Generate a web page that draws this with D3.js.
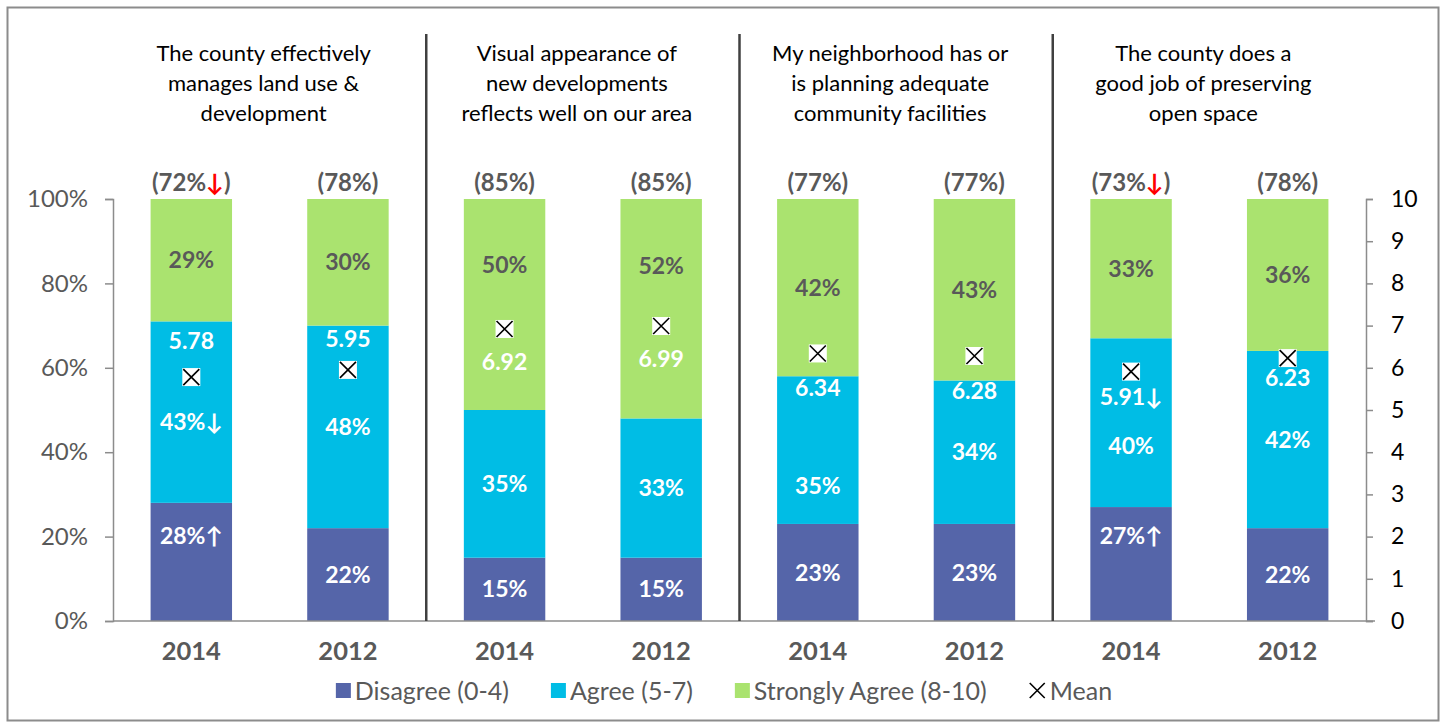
<!DOCTYPE html>
<html>
<head>
<meta charset="utf-8">
<script src="https://cdn.jsdelivr.net/npm/d3@7"></script>
<style>
  body { margin: 0; background: #fff; }
  svg text { font-family: Lato, "Open Sans", sans-serif; }
</style>
</head>
<body>
<div id="chartDiv"></div>
<script>
// data
var groupTitles = [
  ["The county effectively", "manages land use &", "development"],
  ["Visual appearance of", "new developments", "reflects well on our area"],
  ["My neighborhood has or", "is planning adequate", "community facilities"],
  ["The county does a", "good job of preserving", "open space"]
];
var years = ["2014", "2012", "2014", "2012", "2014", "2012", "2014", "2012"];
var disagree = [28, 22, 15, 15, 23, 23, 27, 22];
var agree = [43, 48, 35, 33, 35, 34, 40, 42];
var stronglyAgree = [29, 30, 50, 52, 42, 43, 33, 36];
var means = [5.78, 5.95, 6.92, 6.99, 6.34, 6.28, 5.91, 6.23];
var disagreeArrows = ["↑", "", "", "", "", "", "↑", ""];
var agreeArrows = ["↓", "", "", "", "", "", "", ""];
var meanArrows = ["", "", "", "", "", "", "↓", ""];
var totalArrows = ["↓", "", "", "", "", "", "↓", ""];
var leftTicks = [0, 0.2, 0.4, 0.6, 0.8, 1];
var rightTicks = [0, 1, 2, 3, 4, 5, 6, 7, 8, 9, 10];
var seriesNames = ["Disagree (0-4)", "Agree (5-7)", "Strongly Agree (8-10)"];
var seriesColors = ["#5565a9", "#00bde5", "#aae36f"];

// label nudges (as placed in the original)
var disagreeDy = [-26, 0, 0, 0, 0, 0, -28, 0];
var agreeDy = [10, 0, 0, 0, 36, 0, 23, 0];
var strongDy = [0, 0, -40, -43, 0, 0, 0, 0];
var meanLabelDy = [-36, -31, 33, 33, 34, 35, 25, 20];

var width = 1443, height = 728;
var plot = {left: 113, right: 1366, top: 199, bottom: 621};
var grey = "#595959";

var svg = d3.select("#chartDiv").append("svg")
  .attr("width", width)
  .attr("height", height);

svg.append("rect")
  .attr("x", 7.5).attr("y", 7.5)
  .attr("width", 1431).attr("height", 713)
  .attr("fill", "#fff")
  .attr("stroke", "#8c8c8c")
  .attr("stroke-width", 2);

var idx = d3.range(years.length);

var x = d3.scaleBand()
  .domain(idx)
  .range([plot.left, plot.right])
  .paddingInner(0.48)
  .paddingOuter(0.24);

var y = d3.scaleLinear().domain([0, 1]).range([plot.bottom, plot.top]);
var yMean = d3.scaleLinear().domain([0, 10]).range([plot.bottom, plot.top]);

// stacked rows
var rows = idx.map(function(i) {
  return {i: i, disagree: disagree[i] / 100, agree: agree[i] / 100, strong: stronglyAgree[i] / 100};
});
var stack = d3.stack().keys(["disagree", "agree", "strong"]);
var layers = stack(rows);

svg.append("g")
  .selectAll("g")
  .data(layers)
  .enter()
  .append("g")
    .attr("fill", function(d, k) { return seriesColors[k]; })
  .selectAll("rect")
  .data(function(d) { return d; })
  .enter()
  .append("rect")
    .attr("x", function(d) { return x(d.data.i); })
    .attr("y", function(d) { return y(d[1]); })
    .attr("width", x.bandwidth())
    .attr("height", function(d) { return y(d[0]) - y(d[1]); });

// axes
var leftAxis = svg.append("g")
  .attr("transform", "translate(" + plot.left + ",0)")
  .call(d3.axisLeft(y).tickValues(leftTicks).tickFormat(d3.format(".0%")).tickSize(8).tickPadding(17));
leftAxis.selectAll("text").attr("fill", grey).style("font-size", "24px");

var rightAxis = svg.append("g")
  .attr("transform", "translate(" + plot.right + ",0)")
  .call(d3.axisRight(yMean).tickValues(rightTicks).tickSize(7).tickPadding(18));
rightAxis.selectAll("text").attr("fill", "#000").style("font-size", "23px");

svg.selectAll(".domain, .tick line").attr("stroke", "#8c8c8c").attr("stroke-width", 1.5);

svg.append("line")
  .attr("x1", plot.left).attr("x2", plot.right + 9)
  .attr("y1", plot.bottom).attr("y2", plot.bottom)
  .attr("stroke", "#8c8c8c").attr("stroke-width", 1.5);

// group separators
[1, 3, 5].forEach(function(i) {
  var sx = (x(i) + x.bandwidth() + x(i + 1)) / 2;
  svg.append("line")
    .attr("x1", sx).attr("x2", sx)
    .attr("y1", 34).attr("y2", plot.bottom)
    .attr("stroke", "#404040").attr("stroke-width", 2.5);
});

// group titles
groupTitles.forEach(function(lines, g) {
  var gx = (x(g * 2) + x(g * 2 + 1) + x.bandwidth()) / 2 - 6;
  svg.append("text")
    .attr("text-anchor", "middle")
    .style("font-size", "22px")
    .attr("fill", "#000")
    .selectAll("tspan")
    .data(lines)
    .enter()
    .append("tspan")
      .attr("x", gx)
      .attr("y", function(d, k) { return 61 + k * 30; })
      .text(function(d) { return d; });
});

function cx(i) { return x(i) + x.bandwidth() / 2; }

// segment labels
function segLabels(values, lowerOf, arrows, dys, color) {
  svg.append("g")
    .selectAll("text")
    .data(idx)
    .enter()
    .append("text")
      .attr("x", cx)
      .attr("y", function(i) { return y(lowerOf(i) + values[i] / 200) + dys[i]; })
      .attr("dy", "0.35em")
      .attr("text-anchor", "middle")
      .attr("fill", color)
      .style("font-size", "23px")
      .style("font-weight", "bold")
      .text(function(i) { return values[i] + "%" + arrows[i]; });
}
segLabels(disagree, function() { return 0; }, disagreeArrows, disagreeDy, "#fff");
segLabels(agree, function(i) { return disagree[i] / 100; }, agreeArrows, agreeDy, "#fff");
segLabels(stronglyAgree, function(i) { return (disagree[i] + agree[i]) / 100; }, ["", "", "", "", "", "", "", ""], strongDy, grey);

// total agree above bars
var totals = svg.append("g")
  .selectAll("text")
  .data(idx)
  .enter()
  .append("text")
    .attr("x", cx)
    .attr("y", plot.top - 8)
    .attr("text-anchor", "middle")
    .attr("fill", grey)
    .style("font-size", "24px")
    .style("font-weight", "bold");
totals.append("tspan").text(function(i) { return "(" + (agree[i] + stronglyAgree[i]) + "%"; });
totals.append("tspan").attr("fill", "#ff0000").text(function(i) { return totalArrows[i]; });
totals.append("tspan").text(")");

// mean markers
var m = 9;
var markers = svg.append("g")
  .selectAll("g")
  .data(idx)
  .enter()
  .append("g")
    .attr("transform", function(i) { return "translate(" + cx(i) + "," + yMean(means[i]) + ")"; });
markers.append("rect")
  .attr("x", -m).attr("y", -m).attr("width", 2 * m).attr("height", 2 * m)
  .attr("fill", "#fff");
markers.append("path")
  .attr("d", "M" + (-m + 1) + "," + (-m + 1) + "L" + (m - 1) + "," + (m - 1) + "M" + (m - 1) + "," + (-m + 1) + "L" + (-m + 1) + "," + (m - 1))
  .attr("stroke", "#000").attr("stroke-width", 1.6);

svg.append("g")
  .selectAll("text")
  .data(idx)
  .enter()
  .append("text")
    .attr("x", cx)
    .attr("y", function(i) { return yMean(means[i]) + meanLabelDy[i]; })
    .attr("dy", "0.35em")
    .attr("text-anchor", "middle")
    .attr("fill", "#fff")
    .style("font-size", "23px")
    .style("font-weight", "bold")
    .text(function(i) { return means[i].toFixed(2) + meanArrows[i]; });

// year labels
svg.append("g")
  .selectAll("text")
  .data(idx)
  .enter()
  .append("text")
    .attr("x", cx)
    .attr("y", 660)
    .attr("text-anchor", "middle")
    .attr("fill", grey)
    .style("font-size", "25.5px")
    .style("font-weight", "bold")
    .text(function(i) { return years[i]; });

// legend, centred under the plot
var legend = svg.append("g");
var lx = 0;
seriesNames.forEach(function(name, k) {
  legend.append("rect")
    .attr("x", lx).attr("y", -8).attr("width", 15).attr("height", 15)
    .attr("fill", seriesColors[k]);
  var t = legend.append("text")
    .attr("x", lx + 19).attr("dy", "0.35em")
    .attr("fill", grey)
    .style("font-size", "25px")
    .text(name);
  lx += 19 + t.node().getComputedTextLength() + 42;
});
legend.append("path")
  .attr("d", "M" + (lx + 1) + ",-8L" + (lx + 16) + ",7M" + (lx + 16) + ",-8L" + (lx + 1) + ",7")
  .attr("stroke", "#000").attr("stroke-width", 1.6);
var meanText = legend.append("text")
  .attr("x", lx + 21).attr("dy", "0.35em")
  .attr("fill", grey)
  .style("font-size", "25px")
  .text("Mean");
var legendWidth = lx + 21 + meanText.node().getComputedTextLength();
legend.attr("transform", "translate(" + (724 - legendWidth / 2) + ",691)");
</script>
</body>
</html>
